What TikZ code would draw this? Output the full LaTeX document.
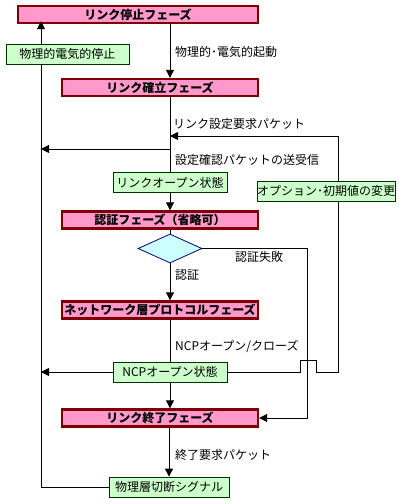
\documentclass[tikz,border=0pt]{standalone}
\usepackage{fontspec}
\setmainfont{Noto Sans CJK JP}
\usetikzlibrary{arrows.meta,shapes.geometric}
\definecolor{phasepink}{HTML}{FF99CC}
\definecolor{phaseedge}{HTML}{800000}
\definecolor{statefill}{HTML}{CCFFCC}
\definecolor{stateedge}{HTML}{003300}
\definecolor{checkfill}{HTML}{CCFFFF}
\definecolor{checkedge}{HTML}{000080}
\begin{document}
\begin{tikzpicture}[x=1pt,y=-1pt,
    font=\fontsize{12}{14}\selectfont,
    phase/.style={draw=phaseedge,fill=phasepink,line width=2.4pt,minimum width=196pt,minimum height=17pt,inner sep=0pt,font=\fontsize{12}{14}\selectfont\bfseries},
    state/.style={draw=stateedge,fill=statefill,line width=0.8pt,minimum height=20pt,inner sep=0pt},
    check/.style={diamond,aspect=2.2,draw=checkedge,fill=checkfill,line width=0.8pt,minimum width=64pt,minimum height=29pt,inner sep=0pt},
    flow/.style={line width=0.9pt,-{Triangle[width=8pt,length=8pt]}},
    wire/.style={line width=0.9pt},
    lbl/.style={anchor=west,inner sep=0pt}]

    \useasboundingbox (0,0) rectangle (401,504);

    \node[phase, minimum width=240pt] (stop) at (138,14.5) {リンク停止フェーズ};
    \node[state, minimum width=123pt] (phys) at (67.5,54) {物理的電気的停止};
    \node[phase] (estab) at (160,87.5) {リンク確立フェーズ};
    \node[state, minimum width=114pt] (lopen) at (170,182.5) {リンクオープン状態};
    \node[state, minimum width=136pt] (option) at (326,191) {オプション･初期値の変更};
    \node[phase] (auth) at (160,220) {認証フェーズ（省略可）};
    \node[check] (dia) at (170,248.5) {};
    \node[phase] (ncp) at (160,310) {ネットワーク層プロトコルフェーズ};
    \node[state, minimum width=114pt] (nopen) at (170,372) {NCPオープン状態};
    \node[phase] (term) at (160,418) {リンク終了フェーズ};
    \node[state, minimum width=120pt] (cut) at (169,487) {物理層切断シグナル};

    % lines
    \coordinate (L) at (41,0);
    \coordinate (R) at (338,0);
    \coordinate (F) at (307,0);
    \coordinate (ask) at (170,136);
    \coordinate (ack) at (170,149);

    \draw[flow] (stop.south -| lopen) -- (estab.north -| lopen);
    \draw[wire] (estab.south -| lopen) -- (lopen.north);
    \draw[flow] (lopen.south) -- (auth.north -| lopen);
    \draw[wire] (auth.south -| dia) -- (dia.north);
    \draw[flow] (dia.south) -- (ncp.north -| dia);
    \draw[wire] (ncp.south -| nopen) -- (nopen.north);
    \draw[flow] (nopen.south) -- (term.north -| nopen);
    \draw[flow] (term.south -| cut) -- (cut.north);

    \draw[flow] (ack) -- (ack -| L);
    \draw[flow] (nopen.west) -- (nopen.west -| L);
    \draw[wire] (cut.west) -- (cut.west -| L) -- (phys.south -| L);
    \draw[flow] (phys.north -| L) -- ([yshift=3pt]stop.south -| L);

    \draw[wire] (nopen.east) -- ++(73,0) -- ++(0,-12) -- ++(16,0) -- ++(0,12) -| (option.south -| R);
    \draw[flow] (option.north -| R) |- (ask);
    \draw[flow] (dia.east) -| (term.east -| F) -- (term.east);

    % labels
    \node[lbl] (t1) at (175,52) {物理的･電気的起動};
    \node[lbl] (t2) at (173,124) {リンク設定要求パケット};
    \node[lbl] (t3) at (175,160) {設定確認パケットの送受信};
    \node[lbl] (t4) at (235,257) {認証失敗};
    \node[lbl] (t5) at (175,275) {認証};
    \node[lbl] (t6) at (175,346) {NCPオープン/クローズ};
    \node[lbl] (t7) at (175,455) {終了要求パケット};
\end{tikzpicture}
\end{document}
